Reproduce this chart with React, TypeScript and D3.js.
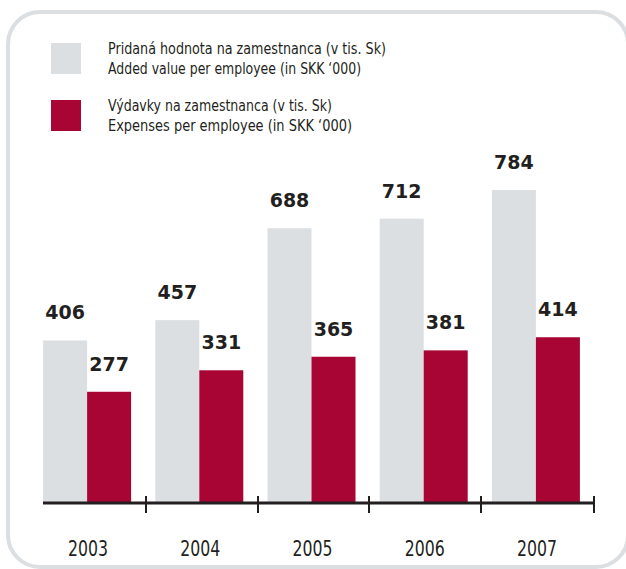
import React from "react";
import * as d3 from "d3";

const years = ["2003", "2004", "2005", "2006", "2007"];
const addedValue = [406, 457, 688, 712, 784];
const expenses = [277, 331, 365, 381, 414];
const legendLabels = [
  ["Pridaná hodnota na zamestnanca (v tis. Sk)", "Added value per employee (in SKK ‘000)"],
  ["Výdavky na zamestnanca (v tis. Sk)", "Expenses per employee (in SKK ‘000)"],
];
const legendWidths = [
  [278, 253],
  [224, 244],
];

const GREY = "#dcdfe2";
const RED = "#a80534";
const TEXT = "#231f20";
const NARROW = "'DejaVu Sans Condensed', 'Liberation Sans Narrow', sans-serif";

export default function App() {
  const W = 626, H = 569;
  const baseline = 502;
  const x = d3.scaleBand().domain(years).range([31, 592]);
  const y = d3.scaleLinear().domain([0, 784]).range([baseline, 190]);
  const bw = 44;
  const seriesColors = [GREY, RED];
  const ticks = [146, 258, 369, 481, 594];

  return (
    <svg width={W} height={H} style={{ position: "absolute", left: 0, top: 0, background: "#fff" }}>
      <rect x={8} y={12} width={620} height={555} rx={32} ry={32} fill="#fff" stroke={GREY} strokeWidth={4} />
      {legendLabels.map((lines, i) => (
        <g key={i} transform={`translate(0, ${i * 57})`}>
          <rect x={51} y={43} width={30} height={31} fill={seriesColors[i]} />
          <text x={108} y={54} fontFamily={NARROW} fontSize={16} fill={TEXT} textLength={legendWidths[i][0]} lengthAdjust="spacingAndGlyphs">{lines[0]}</text>
          <text x={108} y={74} fontFamily={NARROW} fontSize={16} fill={TEXT} textLength={legendWidths[i][1]} lengthAdjust="spacingAndGlyphs">{lines[1]}</text>
        </g>
      ))}
      {years.map((yr, i) => {
        const c = (x(yr) as number) + x.bandwidth() / 2;
        return (
          <g key={yr}>
            <rect x={c - bw} y={y(addedValue[i])} width={bw} height={baseline - y(addedValue[i])} fill={GREY} />
            <rect x={c} y={y(expenses[i])} width={bw} height={baseline - y(expenses[i])} fill={RED} />
            <text x={c - bw / 2} y={y(addedValue[i]) - 21} textAnchor="middle" fontFamily="'DejaVu Sans', sans-serif" fontWeight="bold" fontSize={19} fill={TEXT}>{addedValue[i]}</text>
            <text x={c + bw / 2} y={y(expenses[i]) - 21} textAnchor="middle" fontFamily="'DejaVu Sans', sans-serif" fontWeight="bold" fontSize={19} fill={TEXT}>{expenses[i]}</text>
            <text x={c + 1} y={556} textAnchor="middle" fontFamily={NARROW} fontSize={21} fill={TEXT} textLength={40} lengthAdjust="spacingAndGlyphs">{yr}</text>
          </g>
        );
      })}
      <line x1={43} x2={595} y1={baseline + 1} y2={baseline + 1} stroke={TEXT} strokeWidth={3} />
      {ticks.map((t) => (
        <line key={t} x1={t} x2={t} y1={496} y2={513} stroke={TEXT} strokeWidth={2} />
      ))}
    </svg>
  );
}
